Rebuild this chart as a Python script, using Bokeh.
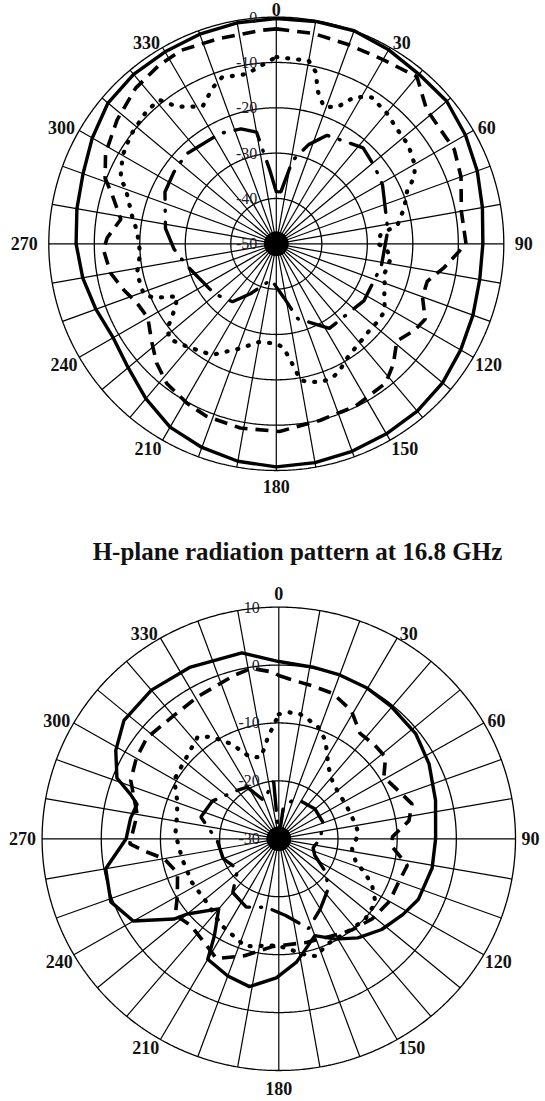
import numpy as np
from bokeh.plotting import figure
from bokeh.models import Range1d
from bokeh.layouts import column
from bokeh.embed import file_html
from bokeh.resources import INLINE
from bokeh.core.properties import value

# ---------------- data (angle in degrees, level in dB) ----------------
# upper chart (scale -50 .. 0 dB)
top_solid_deg = [0, 10, 20, 30, 40, 50, 60, 70, 80, 90, 100, 110, 120, 130, 140, 150, 160, 170,
                 180, 190, 200, 210, 220, 230, 240, 250, 260, 270, 280, 290, 300, 310, 320, 330, 340, 350]
top_solid_db = [-0.3, -0.2, 0.0, -0.6, -1.2, -1.1, -2.0, -3.0, -4.0, -4.6, -4.6, -4.0, -3.2, -2.3, -1.8, -1.6, -1.3, -1.0,
                -0.8, -1.3, -2.2, -3.3, -5.4, -7.5, -8.6, -7.8, -6.8, -6.0, -5.5, -4.8, -3.3, -1.7, -1.2, -1.1, -0.8, -0.5]

top_dash_deg = [0, 10, 20, 30, 40, 48, 55, 62, 70, 80, 90, 98, 104, 110, 117, 122, 129, 136, 142, 154, 166, 179,
                191, 202, 209, 218, 225, 232, 240, 247, 253, 260, 268, 272, 279, 287, 291, 298, 308, 318, 327, 334, 344, 356]
top_dash_db = [-2.6, -2.9, -3.3, -3.1, -1.9, -5.6, -6.0, -5.7, -6.8, -8.7, -8.3, -12.7, -15.8, -15.8, -13.3, -14.1, -15.9, -13.0, -11.0, -10.2, -9.9, -8.6,
               -8.6, -9.0, -9.7, -10.9, -12.8, -15.2, -17.4, -16.7, -15.0, -13.0, -12.0, -12.8, -15.4, -12.2, -9.7, -7.5, -5.6, -3.8, -2.9, -2.5, -3.0, -2.8]

top_dot_deg = [0, 10, 13, 15, 19, 24, 28, 33, 40, 47, 53, 60, 64, 68, 74, 81, 85, 90, 92, 97, 105, 115, 122, 128, 133,
               141, 147, 154, 158, 162, 167, 170, 173, 176, 180, 190, 199, 210, 221, 228, 232, 234, 238, 242, 244, 246,
               249, 258, 266, 275, 281, 290, 293, 300, 307, 316, 321, 324, 327, 332, 338, 342, 350, 356]
top_dot_db = [-8.8, -9.0, -11.2, -15.0, -18.0, -17.0, -13.3, -11.5, -12.3, -13.4, -13.7, -14.9, -16.2, -19.0, -20.7, -23.0, -27.0, -27.7, -26.0, -24.6, -25.3, -23.8, -21.9, -21.9, -22.0,
              -21.4, -20.7, -18.6, -17.9, -18.0, -18.7, -19.5, -24.0, -27.0, -28.0, -28.0, -25.6, -21.7, -20.0, -18.5, -19.6, -21.3, -23.9, -25.3, -23.3, -20.7,
              -18.8, -18.7, -20.0, -19.3, -17.7, -14.8, -12.8, -11.0, -10.0, -9.1, -9.2, -12.5, -14.0, -15.6, -12.8, -11.4, -12.0, -10.3]

top_dd_deg = [0, 5, 11, 18, 25, 42, 52, 61, 83, 102, 123, 148, 164, 172, 188, 207, 217, 231, 256, 267, 278, 295, 305, 315, 333, 343, 350, 355]
top_dd_db = [-38.5, -38.5, -31.3, -27.0, -23.6, -21.5, -22.5, -23.3, -25.3, -26.4, -27.0, -28.0, -32.8, -38.0, -42.0, -37.7, -34.0, -32.5, -29.8, -27.5, -25.4, -23.0, -22.5, -22.0, -22.7, -23.5, -25.0, -33.7]

# lower chart (scale -30 .. +10 dB)
bot_title = "H-plane radiation pattern at 16.8 GHz"
bot_solid_deg = [0, 11, 20, 30, 40, 52, 63, 76, 90, 101, 114, 122, 132, 142, 151, 160, 165, 172, 181, 191, 200, 210,
                 213, 220, 230, 232, 240, 249, 260, 270, 278, 284, 287, 291, 299, 308, 320, 333, 349]
bot_solid_db = [0.6, 0.2, 0.1, 0.0, -0.3, -0.6, -1.5, -2.7, -3.5, -3.6, -4.2, -5.3, -6.6, -8.3, -10.2, -12.2, -10.9, -8.5, -6.0, -4.0, -4.8, -6.0,
                -10.0, -14.2, -9.8, -7.5, -1.6, 0.4, -0.3, -4.2, -4.7, -5.3, -3.8, -0.7, 1.5, 3.2, 3.5, 3.2, 2.7]

bot_dash_deg = [0, 4, 12, 20, 29, 37, 45, 52, 59, 68, 75, 82, 89, 94, 102, 110, 120, 131, 142, 152, 165, 183, 196, 207,
                215, 225, 233, 240, 251, 260, 264, 268, 280, 292, 300, 308, 320, 331, 345, 351, 358]
bot_dash_db = [-1.8, -2.4, -3.0, -3.3, -4.7, -7.2, -7.1, -7.1, -9.3, -8.1, -6.7, -7.8, -10.8, -10.8, -7.8, -8.4, -8.4, -9.0, -10.0, -11.0, -11.5, -11.4, -9.0, -6.8,
               -8.1, -8.9, -8.1, -10.2, -11.9, -10.3, -7.7, -4.8, -5.7, -3.0, -2.2, -1.7, -2.3, -1.9, -0.8, -0.2, -1.2]

bot_dot_deg = [0, 4, 9, 13, 19, 25, 29, 34, 42, 52, 62, 79, 86, 98, 107, 112, 117, 124, 133, 141, 157, 162, 166, 175,
               181, 197, 213, 228, 243, 258, 273, 284, 291, 300, 322, 327, 334, 337, 341, 348, 354, 357]
bot_dot_db = [-8.5, -8.1, -8.1, -8.7, -9.6, -11.3, -13.2, -15.0, -16.5, -17.2, -17.2, -16.8, -16.5, -17.5, -16.4, -14.3, -12.3, -10.3, -9.9, -10.1, -10.0, -8.7, -9.2, -10.9,
              -11.6, -10.6, -12.2, -13.6, -13.5, -13.3, -12.5, -12.3, -11.6, -9.6, -7.7, -9.0, -11.8, -13.4, -15.1, -15.6, -12.4, -10.7]

bot_dd_deg = [0, 8, 19, 30, 50, 70, 90, 105, 115, 126, 136, 150, 162, 175, 190, 205, 220, 233, 250, 268, 286, 300, 320, 329, 339, 355]
bot_dd_db = [-30.0, -24.5, -23.0, -22.5, -22.0, -22.0, -23.0, -24.0, -23.3, -20.2, -18.0, -16.0, -13.7, -16.7, -18.0, -17.0, -17.9, -21.3, -20.0, -19.6, -16.3, -17.0, -19.1, -19.6, -22.9, -20.0]

angle_ticks = [0, 30, 60, 90, 120, 150, 180, 210, 240, 270, 300, 330]
angle_labels = [str(a) for a in angle_ticks]

top_ring_levels = [0, -10, -20, -30, -40, -50]
top_ring_labels = ["0", "-10", "-20", "-30", "-40", "-50"]
bot_ring_levels = [10, 0, -10, -20, -30]
bot_ring_labels = ["10", "0", "-10", "-20", "-30"]

# ---------------- layout constants ----------------
W = 545
H_TOP = 520
H_BOT = 581
SERIF = value("Liberation Serif")
LABEL_PX = 18


def make_chart(height, page_y0, cx, cy, rx_px, ry_px, rmin, rmax, ring_levels, ring_labels, curves, gap_v, gap_h):
    span = rmax - rmin
    kx = rx_px / span
    ky = ry_px / span
    ytop = (cy - page_y0) / ky
    p = figure(width=W, height=height,
               x_range=Range1d(-cx / kx, (W - cx) / kx),
               y_range=Range1d((cy - (page_y0 + height)) / ky, ytop),
               output_backend="svg", toolbar_location=None, min_border=0,
               x_axis_type=None, y_axis_type=None, outline_line_color=None,
               background_fill_color="white", border_fill_color="white")
    p.grid.visible = False

    def pol(deg, db):
        r = np.clip(np.asarray(db, float) - rmin, 0, None)
        t = np.radians(np.asarray(deg, float))
        return r * np.sin(t), r * np.cos(t)

    # rings
    t = np.linspace(0, 360, 721)
    xs, ys = [], []
    for lev in ring_levels:
        if lev == rmin:
            continue
        x, y = pol(t, np.full_like(t, lev))
        xs.append(list(x))
        ys.append(list(y))
    p.multi_line(xs, ys, line_color="black", line_width=1.3)
    # spokes
    sp = np.arange(0, 360, 10)
    x1, y1 = pol(sp, np.full(len(sp), rmax))
    p.segment(x0=np.zeros(len(sp)), y0=np.zeros(len(sp)), x1=x1, y1=y1, line_color="black", line_width=1.2)
    p.scatter(x=[0], y=[0], size=24, color="black")

    # curves
    for deg, db, style in curves:
        d = list(deg) + [deg[0] + 360]
        v = list(db) + [db[0]]
        x, y = pol(d, v)
        if style == "solid":
            p.line(x, y, line_color="black", line_width=3.4, line_join="round")
        elif style == "dash":
            p.line(x, y, line_color="black", line_width=3.6, line_dash="13 8")
        elif style == "dot":
            p.line(x, y, line_color="black", line_width=4.2, line_dash="1 10", line_cap="round")
        else:
            p.line(x, y, line_color="black", line_width=3.4, line_dash="30 11 1 11", line_cap="round")

    # ring labels
    for lev, lab in zip(ring_levels, ring_labels):
        p.text(x=[-19 / kx], y=[lev - rmin], text=[lab], text_font=SERIF, text_font_size="16px",
               text_align="right", text_baseline="middle", text_color="#202028")

    # angle labels
    for a, lab in zip(angle_ticks, angle_labels):
        th = np.radians(a)
        s, c = np.sin(th), np.cos(th)
        gap = 3 + np.cos(2 * th) ** 2 * ((gap_v - 3) * c ** 2 + (gap_h - 3) * s ** 2)
        if c < -0.01:
            gap -= 3
        x = s * (span + gap / kx)
        y = c * (span + gap / ky)
        align = "left" if s > 0.01 else ("right" if s < -0.01 else "center")
        base = "alphabetic" if c > 0.01 else ("top" if c < -0.01 else "middle")
        # keep the label inside the canvas
        if base == "alphabetic" and (ytop - y) * ky < LABEL_PX + 2:
            y = ytop - 2 / ky
            base = "top"
        p.text(x=[x], y=[y], text=[lab], text_font=SERIF, text_font_size=f"{LABEL_PX}px", text_font_style="bold",
               text_align=align, text_baseline=base, text_color="#111111")
    return p, kx, ky


p1, _, _ = make_chart(H_TOP, 0, 275.8, 243.3, 227.5, 226.7, -50, 0, top_ring_levels, top_ring_labels,
                      [(top_dot_deg, top_dot_db, "dot"), (top_dd_deg, top_dd_db, "dd"),
                       (top_dash_deg, top_dash_db, "dash"), (top_solid_deg, top_solid_db, "solid")], 12, 11)

BCX, BCY = 278.3, 838.3
p2, kx2, ky2 = make_chart(H_BOT, H_TOP, BCX, BCY, 236.7, 231.7, -30, 10, bot_ring_levels, bot_ring_labels,
                          [(bot_dot_deg, bot_dot_db, "dot"), (bot_dd_deg, bot_dd_db, "dd"),
                           (bot_dash_deg, bot_dash_db, "dash"), (bot_solid_deg, bot_solid_db, "solid")], 14, 6)
p2.text(x=[(297 - BCX) / kx2], y=[(BCY - 551) / ky2], text=[bot_title], text_font=SERIF,
        text_font_size="25px", text_font_style="bold", text_align="center", text_baseline="middle",
        text_color="#111111")

layout = column(p1, p2, spacing=0)
open("out.html", "w").write(file_html(layout, INLINE))
